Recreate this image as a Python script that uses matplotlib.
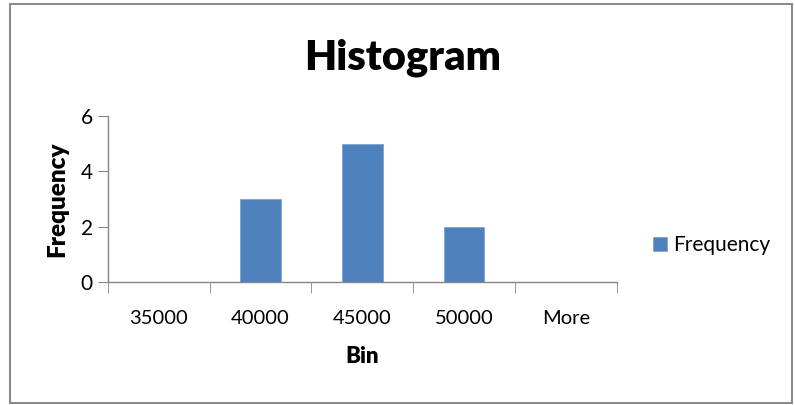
import numpy as np
import matplotlib.pyplot as plt
from matplotlib.patches import Rectangle

# histogram bins and counts
bins = ['35000', '40000', '45000', '50000', 'More']
frequency = [0, 3, 5, 2, 0]
y_ticks = [0, 2, 4, 6]

bar_color = '#4F81BD'
axis_color = '#868686'
font = 'Lato'

fig = plt.figure(figsize=(7.95, 4.05), dpi=100)
ax = fig.add_axes([0.1358, 0.3037, 0.64, 0.41])

x = np.arange(len(bins))
ax.bar(x, frequency, width=0.4, color=bar_color, edgecolor='#7FA3D0',
       linewidth=0.6, label='Frequency', zorder=2)

ax.set_xlim(-0.5, len(bins) - 0.5)
ax.set_ylim(0, 6)

# labels centred on bars, tick marks on the category boundaries
ax.set_xticks(x)
ax.set_xticklabels(bins, fontsize=14.5, family=font)
ax.tick_params(axis='x', which='major', length=0, pad=20)
ax.set_xticks(np.arange(len(bins) + 1) - 0.5, minor=True)
ax.tick_params(axis='x', which='minor', length=8, color=axis_color, direction='out')

ax.set_yticks(y_ticks)
ax.set_yticklabels([str(v) for v in y_ticks], fontsize=15, family=font)
ax.tick_params(axis='y', length=7, color=axis_color, pad=4)

for side in ['top', 'right']:
    ax.spines[side].set_visible(False)
for side in ['left', 'bottom']:
    ax.spines[side].set_color(axis_color)
    ax.spines[side].set_linewidth(1)

ax.set_xlabel('Bin', fontsize=16, fontweight='heavy', family=font, labelpad=14)
ax.set_ylabel('Frequency', fontsize=17.5, fontweight='heavy', family=font, labelpad=9)

fig.text(0.506, 0.858, 'Histogram', fontsize=30, fontweight='heavy',
         family=font, ha='center', va='center')

ax.legend(loc='center left', bbox_to_anchor=(1.035, 0.22), frameon=False,
          prop={'family': font, 'size': 15}, handlelength=0.65,
          handleheight=0.7, handletextpad=0.3)

# chart border
fig.patches.append(Rectangle((0.013, 0.006), 0.983, 0.984, transform=fig.transFigure,
                             fill=False, edgecolor='#8C8C8C', linewidth=1.5))

fig.savefig('out.png', dpi=100)
